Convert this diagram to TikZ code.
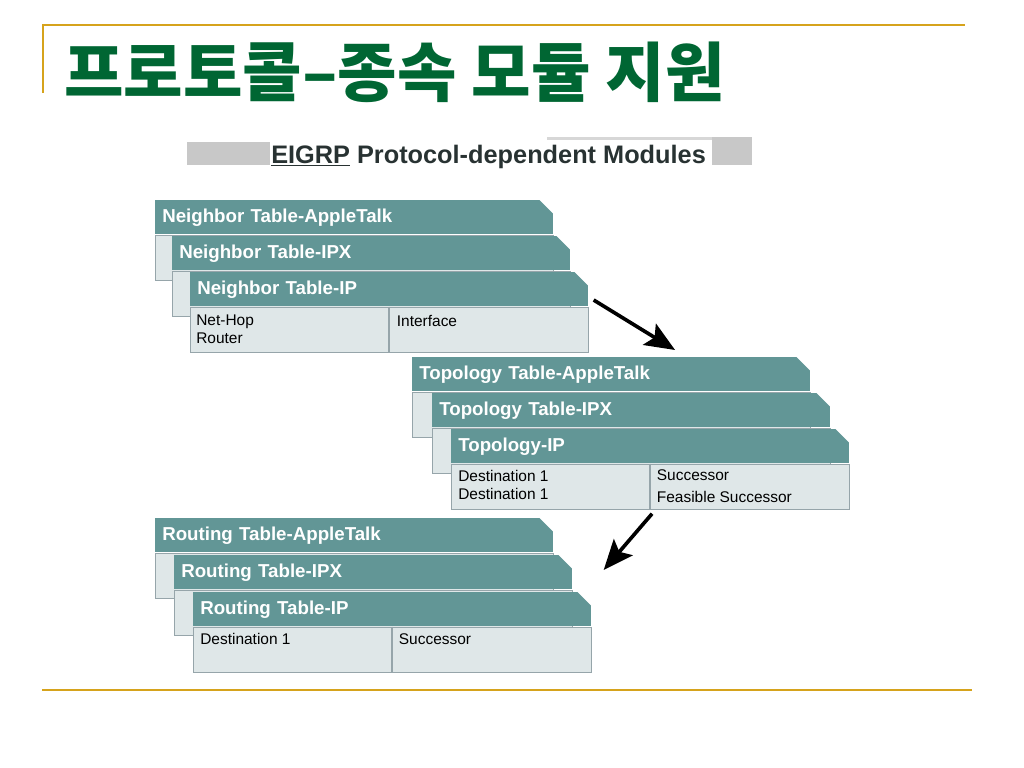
\documentclass[tikz,border=0pt]{standalone}
\usepackage{fontspec}
\setmainfont{Liberation Sans}
\newfontfamily\kofont{Noto Sans CJK KR}
\usetikzlibrary{arrows.meta, positioning}

\definecolor{tealhd}{RGB}{98,150,150}
\definecolor{bodyfill}{RGB}{223,231,232}
\definecolor{bodyline}{RGB}{150,165,170}
\definecolor{goldline}{RGB}{214,163,28}
\definecolor{titlegreen}{RGB}{0,102,51}
\definecolor{bandgray}{RGB}{200,200,200}
\definecolor{bandlight}{RGB}{215,215,215}
\definecolor{subtext}{RGB}{40,50,50}

\begin{document}
\begin{tikzpicture}[
    x=0.025cm, y=-0.025cm,
    hdr/.style={rectangle, anchor=north west, fill=tealhd, text=white, font=\bfseries\fontsize{13.3}{15}\selectfont, minimum height=0.85cm, text width=9.6cm, inner xsep=0.175cm, inner ysep=0pt, align=left},
    body/.style={rectangle, anchor=north west, fill=bodyfill, draw=bodyline, line width=0.8pt, minimum width=9.95cm, minimum height=1.125cm, inner sep=0pt},
    cell/.style={anchor=north west, align=left, inner sep=0pt, font=\fontsize{11}{12.8}\selectfont},
    divider/.style={draw=bodyline, line width=0.8pt},
    arrow/.style={line width=2.6pt, -{Stealth[length=0.75cm, width=0.62cm, inset=0.15cm]}},
    rule/.style={draw=goldline, line width=1.4pt}
]
\useasboundingbox (0,0) rectangle (1024,768);

% title and frame
\draw [rule] (43,93) -- (43,25) -- (965,25);
\draw [rule] (42,690) -- (972,690);
\node (title) [anchor=base west, inner sep=0pt, text=titlegreen, font=\kofont\bfseries\fontsize{46}{52}\selectfont] at (64,97) {프로토콜–종속 모듈 지원};

% caption band
\fill [bandgray] (187,142) rectangle (270,165);
\fill [bandgray] (712,137) rectangle (752,165);
\fill [bandlight] (547,137) rectangle (712,140);
\node (sub) [anchor=base west, inner sep=0pt, text=subtext, font=\bfseries\fontsize{18}{20}\selectfont] at (271,163) {\underline{EIGRP} Protocol-dependent Modules};

% neighbor tables
\node (nbATh) [hdr] at (155,200) {Neighbor Table-AppleTalk};
\node (nbATb) [body] at (nbATh.south west) {};
\node (nbIPXh) [hdr] at (172,236) {Neighbor Table-IPX};
\node (nbIPXb) [body] at (nbIPXh.south west) {};
\node (nbIPh) [hdr] at (190,272) {Neighbor Table-IP};
\node (nbIPb) [body] at (nbIPh.south west) {};
\draw [divider] ([xshift=4.975cm]nbIPb.north west) -- ([xshift=4.975cm]nbIPb.south west);
\node (nbhop) [cell] at ([shift={(0.15cm,-0.2cm)}]nbIPb.north west) {Net-Hop\\Router};
\node (nbif) [cell] at ([shift={(0.175cm,-0.2cm)}]nbIPb.north) {Interface};

% topology tables
\node (tpATh) [hdr] at (412,357) {Topology Table-AppleTalk};
\node (tpATb) [body] at (tpATh.south west) {};
\node (tpIPXh) [hdr] at (432,393) {Topology Table-IPX};
\node (tpIPXb) [body] at (tpIPXh.south west) {};
\node (tpIPh) [hdr] at (451,429) {Topology-IP};
\node (tpIPb) [body] at (tpIPh.south west) {};
\draw [divider] ([xshift=4.975cm]tpIPb.north west) -- ([xshift=4.975cm]tpIPb.south west);
\node (tpdest) [cell] at ([shift={(0.175cm,-0.17cm)}]tpIPb.north west) {Destination 1\\Destination 1};
\node (tpsucc) [cell, font=\fontsize{11}{15.5}\selectfont] at ([shift={(0.15cm,-0.15cm)}]tpIPb.north) {Successor\\Feasible Successor};

% routing tables
\node (rtATh) [hdr] at (155,518) {Routing Table-AppleTalk};
\node (rtATb) [body] at (rtATh.south west) {};
\node (rtIPXh) [hdr] at (174,555) {Routing Table-IPX};
\node (rtIPXb) [body] at (rtIPXh.south west) {};
\node (rtIPh) [hdr] at (193,592) {Routing Table-IP};
\node (rtIPb) [body] at (rtIPh.south west) {};
\draw [divider] ([xshift=4.975cm]rtIPb.north west) -- ([xshift=4.975cm]rtIPb.south west);
\node (rtdest) [cell] at ([shift={(0.175cm,-0.17cm)}]rtIPb.north west) {Destination 1};
\node (rtsucc) [cell] at ([shift={(0.15cm,-0.17cm)}]rtIPb.north) {Successor};

% cut corners
\foreach \n in {nbATh,nbIPXh,nbIPh,tpATh,tpIPXh,tpIPh,rtATh,rtIPXh,rtIPh}
  \fill [white] ([xshift=-0.35cm]\n.north east) -- ([xshift=0.02cm,yshift=0.02cm]\n.north east) -- ([yshift=-0.35cm]\n.north east) -- cycle;

\draw [arrow] ([shift={(0.125cm,-0.7cm)}]nbIPh.north east) -- ([shift={(6.575cm,0.175cm)}]tpATh.north west);
\draw [arrow] ([shift={(5.025cm,-0.1cm)}]tpIPb.south west) -- ([shift={(1.25cm,-1.3cm)}]rtATh.north east);

\end{tikzpicture}
\end{document}
